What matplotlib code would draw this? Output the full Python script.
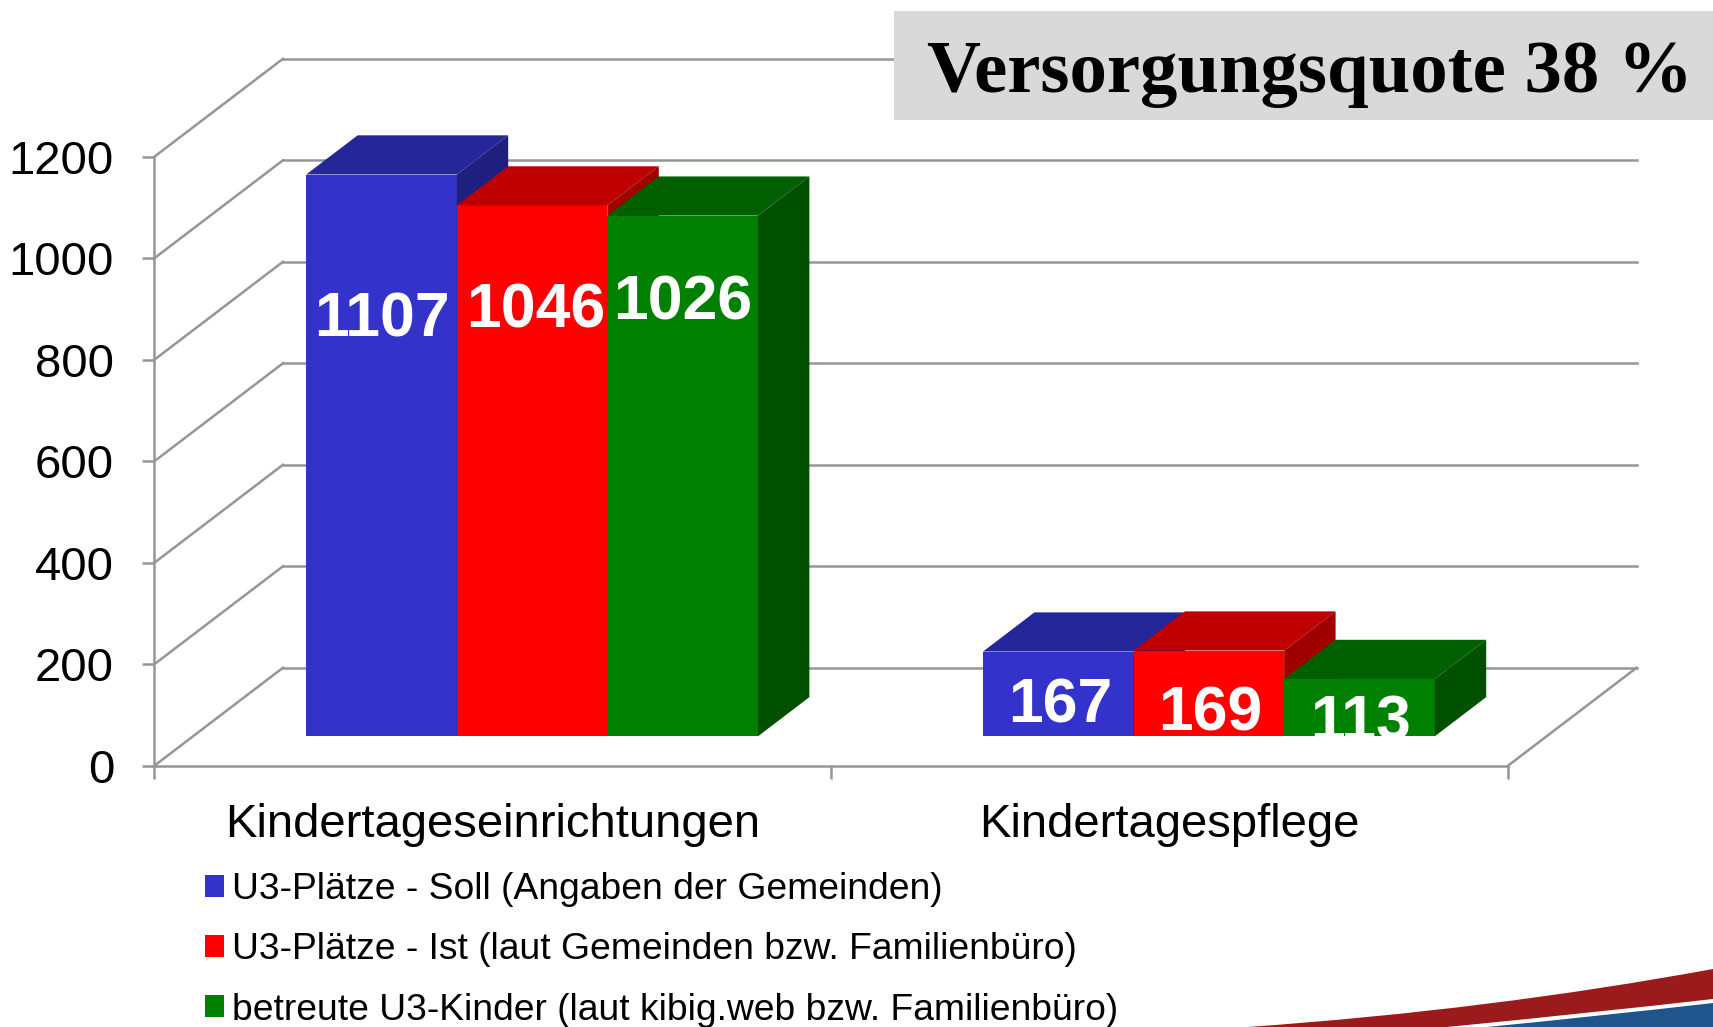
import matplotlib

matplotlib.use("Agg")
import matplotlib.pyplot as plt
from matplotlib.patches import PathPatch, Patch, Polygon, Rectangle
from matplotlib.path import Path

categories = ["Kindertageseinrichtungen", "Kindertagespflege"]
series_names = [
    "U3-Plätze - Soll (Angaben der Gemeinden)",
    "U3-Plätze - Ist (laut Gemeinden bzw. Familienbüro)",
    "betreute U3-Kinder (laut kibig.web bzw. Familienbüro)",
]
soll_values = [1107, 167]
ist_values = [1046, 169]
betreut_values = [1026, 113]
y_ticks = [0, 200, 400, 600, 800, 1000, 1200]
title_text = "Versorgungsquote 38 %"

# front, top, side
series_colors = [
    ("#3333cc", "#26269b", "#1f1f80"),
    ("#ff0000", "#bf0000", "#a00000"),
    ("#008000", "#005f00", "#005000"),
]
# label centres in reference pixels, same order as the bars
label_x = [[382, 536, 683], [1060, 1210, 1360]]
label_y = [[320, 311, 303], [706, 714, 723]]

GRID = "#969696"
W, H = 1713, 1027
WALL_DX = 0.19
WALL_DY = 193
BAR_WIDTH = 0.2225
NEAR, FAR = 0.3, 0.7
LINE = 1.8


def project(x, value, depth):
    return (x + WALL_DX * depth, value + WALL_DY * depth)


fig = plt.figure(figsize=(W / 100, H / 100), dpi=100, facecolor="white")
plt.rcParams["font.family"] = ["Liberation Sans", "DejaVu Sans"]

ax = fig.add_axes([154.4 / W, 1 - 765.7 / H, 1353.6 / W, 609 / H])
ax.set_xlim(0, 2)
ax.set_ylim(0, 1200)
ax.set_facecolor("none")
for side in ["top", "right"]:
    ax.spines[side].set_visible(False)
for side in ["left", "bottom"]:
    ax.spines[side].set_color(GRID)
    ax.spines[side].set_linewidth(LINE)

ax.set_yticks(y_ticks)
ax.tick_params(axis="y", length=9, width=LINE, color=GRID, labelsize=34, pad=20)
ax.set_xticks([0, 1, 2], minor=True)
ax.set_xticks([0.5, 1.5], categories)
ax.tick_params(axis="x", which="minor", length=9, width=LINE, color=GRID)
ax.tick_params(axis="x", which="major", length=0, labelsize=34, pad=27)

# walls and floor
for value in y_ticks:
    back_left = project(0, value, 1)
    back_right = project(2, value, 1)
    ax.plot([0, back_left[0]], [value, back_left[1]], color=GRID, lw=LINE, clip_on=False)
    ax.plot([back_left[0], back_right[0]], [back_left[1], back_right[1]], color=GRID, lw=LINE, clip_on=False)
floor_right = project(2, 0, 1)
ax.plot([2, floor_right[0]], [0, floor_right[1]], color=GRID, lw=LINE, clip_on=False)

# bars
all_values = [soll_values, ist_values, betreut_values]
overlay_items = []
for cat_index in range(len(categories)):
    start = cat_index + (1 - 3 * BAR_WIDTH) / 2 + WALL_DX * NEAR + 0.001
    base = WALL_DY * NEAR
    for s_index, values in enumerate(all_values):
        value = values[cat_index]
        x0 = start + s_index * BAR_WIDTH
        x1 = x0 + BAR_WIDTH
        front, top, side = series_colors[s_index]
        dx = WALL_DX * (FAR - NEAR)
        dy = WALL_DY * (FAR - NEAR)
        z = 3 + s_index * 0.1
        bar = ax.bar(x0, value, width=BAR_WIDTH, bottom=base, align="edge", color=front, zorder=z, clip_on=False)[0]
        ax.add_patch(Polygon(
            [(x0, base + value), (x1, base + value), (x1 + dx, base + value + dy), (x0 + dx, base + value + dy)],
            closed=True, facecolor=top, edgecolor="none", zorder=z, clip_on=False,
        ))
        ax.add_patch(Polygon(
            [(x1, base), (x1 + dx, base + dy), (x1 + dx, base + value + dy), (x1, base + value)],
            closed=True, facecolor=side, edgecolor="none", zorder=z, clip_on=False,
        ))
        overlay_items.append((cat_index, s_index, value, bar))

# full figure layer in reference pixels
px = fig.add_axes([0, 0, 1, 1])
px.set_xlim(0, W)
px.set_ylim(H, 0)
px.axis("off")
px.patch.set_visible(False)

for cat_index, s_index, value, bar in overlay_items:
    label = px.text(
        label_x[cat_index][s_index], label_y[cat_index][s_index], str(value),
        color="white", fontsize=45, fontweight="bold", ha="center", va="center",
    )
    label.set_clip_path(bar)

px.add_patch(Rectangle((894, 11), W - 894, 109, facecolor="#d9d9d9", edgecolor="none"))
px.text(1310, 74, title_text, family="Liberation Serif", fontweight="bold", fontsize=53.8,
        ha="center", va="center", color="black")

# decorative swoosh
px.add_patch(PathPatch(
    Path(
        [(1248, 1027), (1490, 1010), (1713, 969), (1713, 999), (1600, 1012), (1447, 1027), (1248, 1027)],
        [Path.MOVETO, Path.CURVE3, Path.CURVE3, Path.LINETO, Path.CURVE3, Path.CURVE3, Path.CLOSEPOLY],
    ),
    facecolor="#9b1a1c", edgecolor="none",
))
px.add_patch(PathPatch(
    Path(
        [(1487, 1027), (1600, 1016), (1713, 1003), (1713, 1027), (1487, 1027)],
        [Path.MOVETO, Path.CURVE3, Path.CURVE3, Path.LINETO, Path.CLOSEPOLY],
    ),
    facecolor="#1f548c", edgecolor="none",
))

handles = [Patch(facecolor=c[0], edgecolor="none") for c in series_colors]
fig.legend(
    handles, series_names, loc="lower left", bbox_to_anchor=(204.5 / W, 1 - 1027.5 / H),
    bbox_transform=fig.transFigure, frameon=False, fontsize=26.8,
    handlelength=0.52, handleheight=0.52, handletextpad=0.22, labelspacing=0.68,
    borderpad=0, borderaxespad=0,
)

fig.savefig("out.png", dpi=100)
